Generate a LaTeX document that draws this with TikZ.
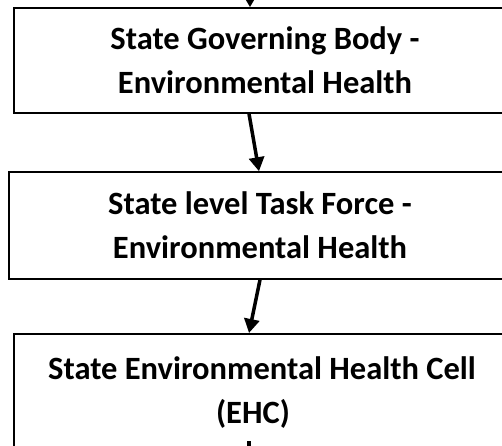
\documentclass[tikz,border=0pt]{standalone}
\usepackage{fontspec}
\setmainfont{Carlito}
\usetikzlibrary{arrows.meta,calc}
\begin{document}
\begin{tikzpicture}[x=1pt,y=-1pt,
  txt/.style={font=\fontsize{32.5}{44}\selectfont\bfseries,align=center},
  box/.style={draw=black,line width=1.5pt,rectangle,minimum width=502pt,inner sep=0pt,txt},
  arr/.style={line width=3.5pt,-{Triangle[length=14pt,width=15pt]}}]
\useasboundingbox (0,0) rectangle (502,445);
\clip (0,0) rectangle (502,445);
\fill[white] (0,0) rectangle (502,445);
\node[box,minimum height=105pt] (b1) at (265,60.5) {State Governing Body -\\Environmental Health};
\node[box,minimum height=107pt] (b2) at (260,225.5) {State level Task Force -\\Environmental Health};
\node[box,minimum height=130pt,anchor=north] (b3) at (265,333) {};
\node[txt,anchor=north] (t3) at (262,353) {State Environmental Health Cell\\(EHC)\hspace*{18pt}};
\coordinate (top) at (250,-30);
\coordinate (m1) at (249,441);
\coordinate (m2) at (249,450);
\draw[arr] (top) -- ($(b1.north)+(-15,0)$);
\draw[arr] ($(b1.south)+(-16,0)$) -- ($(b2.north)+(-1,0)$);
\draw[arr] ($(b2.south)+(0,0)$) -- ($(b3.north)+(-16,0)$);
\draw[line width=3.5pt] (m1) -- (m2);
\end{tikzpicture}
\end{document}
